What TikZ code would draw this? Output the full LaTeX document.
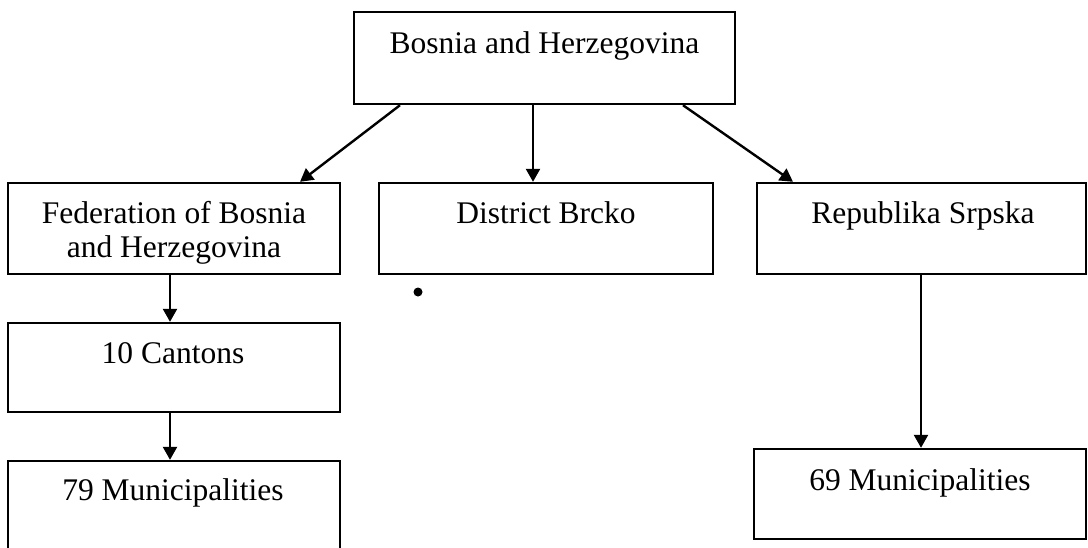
\documentclass[tikz,border=0pt]{standalone}
\usepackage{fontspec}
\setmainfont{Liberation Serif}
\usetikzlibrary{arrows.meta}
\begin{document}
\begin{tikzpicture}[x=1pt,y=-1pt,
  box/.style={draw=black, line width=2.4pt, inner sep=0pt, rectangle},
  lbl/.style={inner sep=0pt, anchor=base, align=center, font=\fontsize{31.5}{34}\selectfont},
  arr/.style={line width=2.4pt, -{Triangle[length=13pt,width=14pt]}}]
\useasboundingbox (0,0) rectangle (1088,547);
\begin{scope}
\clip (0,0) rectangle (1088,547);
% boxes
\node[box, minimum width=381pt, minimum height=92pt] (top) at (544.5,58) {};
\node[box, minimum width=332pt, minimum height=91pt] (fed) at (174,228.5) {};
\node[box, minimum width=334pt, minimum height=91pt] (dist) at (546,228.5) {};
\node[box, minimum width=329pt, minimum height=91pt] (rep) at (921.5,228.5) {};
\node[box, minimum width=332pt, minimum height=89pt] (cant) at (174,367.5) {};
\node[box, minimum width=332pt, minimum height=120pt] (mA) at (174,521) {};
\node[box, minimum width=332pt, minimum height=90pt] (mB) at (920,494) {};
% labels
\node[lbl] (topt) at (544.5,53) {Bosnia and Herzegovina};
\node[lbl] (fedt) at (174,257) {Federation of Bosnia\\and Herzegovina};
\node[lbl] (distt) at (546,223) {District Brcko};
\node[lbl] (rept) at (923,223) {Republika Srpska};
\node[lbl] (cantt) at (173,363) {10 Cantons};
\node[lbl] (mAt) at (173,500) {79 Municipalities};
\node[lbl] (mBt) at (920,490) {69 Municipalities};
% connectors
\coordinate (a1) at ([xshift=-144.5pt]top.south);
\coordinate (a1e) at ([xshift=126pt]fed.north);
\draw[arr] (a1) -- (a1e);
\coordinate (a2) at ([xshift=-11.5pt]top.south);
\draw[arr] (a2) -- (a2 |- dist.north);
\coordinate (a3) at ([xshift=138.5pt]top.south);
\coordinate (a3e) at ([xshift=-128.5pt]rep.north);
\draw[arr] (a3) -- (a3e);
\coordinate (b1) at ([xshift=-4pt]fed.south);
\draw[arr] (b1) -- (b1 |- cant.north);
\coordinate (b2) at ([xshift=-4pt]cant.south);
\draw[arr] (b2) -- (b2 |- mA.north);
\coordinate (b3) at ([xshift=-0.5pt]rep.south);
\draw[arr] (b3) -- (b3 |- mB.north);
% stray mark
\fill (418,292) circle (4.5pt);
\end{scope}
\end{tikzpicture}
\end{document}
